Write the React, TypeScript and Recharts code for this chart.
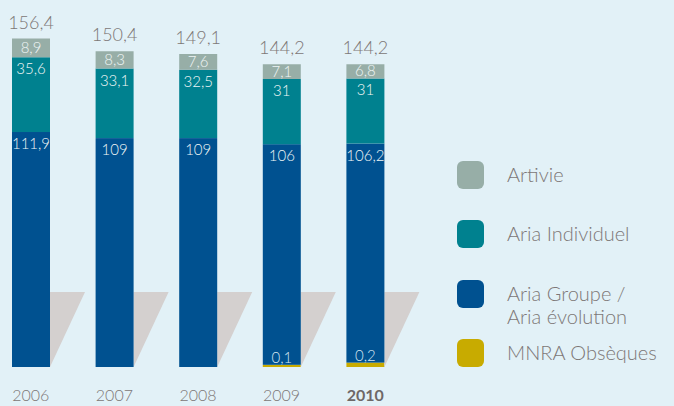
import React from "react";
import { BarChart, Bar, XAxis, YAxis, LabelList } from "recharts";

const years = ["2006", "2007", "2008", "2009", "2010"];
const artivie = [8.9, 8.3, 7.6, 7.1, 6.8];
const ariaIndividuel = [35.6, 33.1, 32.5, 31, 31];
const ariaGroupe = [111.9, 109, 109, 106, 106.2];
const mnraObseques = [0, 0, 0, 0.1, 0.2];
const totals = [156.4, 150.4, 149.1, 144.2, 144.2];

const data = years.map((year, i) => ({
  year,
  artivie: artivie[i],
  ariaIndividuel: ariaIndividuel[i],
  ariaGroupe: ariaGroupe[i],
  mnra: mnraObseques[i],
}));

const COLORS = {
  artivie: "#97aea7",
  ariaIndividuel: "#00818f",
  ariaGroupe: "#005190",
  mnra: "#c8ab00",
  shadow: "#d4d0cf",
  bg: "#e2f1f7",
  text: "#7d7776",
};

const FONT = "Lato, 'Open Sans', sans-serif";
const GOLD_PX = 22; // the small gold segment is drawn exaggerated
const SHADOW_H = 75;
const SHADOW_W = 35;

const fmt = (v: number) => String(v).replace(".", ",");

const GoldShape = (props: any) => {
  const { x, y, width, height, index } = props;
  const v = mnraObseques[index];
  if (!v) return <g />;
  const bottom = y + height;
  const h = v * GOLD_PX;
  return <rect x={x} y={bottom - h} width={width} height={h} fill={COLORS.mnra} />;
};

const BlueShape = (props: any) => {
  const { x, y, width, height, index } = props;
  const goldReal = (height / ariaGroupe[index]) * mnraObseques[index];
  const bottom = y + height + goldReal;
  const goldDisp = mnraObseques[index] * GOLD_PX;
  const r = x + width;
  return (
    <g>
      <polygon
        points={`${r},${bottom - SHADOW_H} ${r + SHADOW_W},${bottom - SHADOW_H} ${r},${bottom}`}
        fill={COLORS.shadow}
      />
      <rect x={x} y={y} width={width} height={bottom - goldDisp - y} fill={COLORS.ariaGroupe} />
    </g>
  );
};

const segLabel = (values: number[], mode: "mid" | "top") => (props: any) => {
  const { x, y, width, height, index } = props;
  const cy = mode === "mid" ? y + height / 2 + 5 : y + 17;
  return (
    <text
      x={x + width / 2}
      y={cy}
      textAnchor="middle"
      fill="#eef5f5"
      fontSize={15}
      fontWeight={300}
      fontFamily={FONT}
    >
      {fmt(values[index])}
    </text>
  );
};

const totalLabel = (props: any) => {
  const { x, y, width, index } = props;
  return (
    <text
      x={x + width / 2}
      y={y - 10}
      textAnchor="middle"
      fill={COLORS.text}
      fontSize={18}
      fontWeight={300}
      fontFamily={FONT}
    >
      {fmt(totals[index])}
    </text>
  );
};

const goldLabel = (props: any) => {
  const { x, y, width, height, index } = props;
  const v = mnraObseques[index];
  if (!v) return null;
  const top = y + height - v * GOLD_PX;
  return (
    <text
      x={x + width / 2}
      y={top - 2}
      textAnchor="middle"
      fill="#d6e6f0"
      fontSize={15}
      fontWeight={300}
      fontFamily={FONT}
    >
      {fmt(v)}
    </text>
  );
};

const YearTick = (props: any) => {
  const { x, y, payload } = props;
  const last = payload.value === "2010";
  return (
    <text
      x={x}
      y={y + 34}
      textAnchor="middle"
      fill={last ? "#6e6867" : COLORS.text}
      fontSize={16}
      fontWeight={last ? 700 : 300}
      fontFamily={FONT}
    >
      {payload.value}
    </text>
  );
};

const legendItems = [
  { label: ["Artivie"], color: COLORS.artivie, top: 161 },
  { label: ["Aria Individuel"], color: COLORS.ariaIndividuel, top: 220 },
  { label: ["Aria Groupe /", "Aria évolution"], color: COLORS.ariaGroupe, top: 280 },
  { label: ["MNRA Obsèques"], color: COLORS.mnra, top: 339 },
];

export default function App() {
  return (
    <div
      style={{
        position: "fixed",
        left: 0,
        top: 0,
        width: 674,
        height: 406,
        background: COLORS.bg,
        overflow: "hidden",
      }}
    >
      <BarChart
        width={674}
        height={406}
        data={data}
        margin={{ top: 10, right: 267, bottom: 9, left: -11 }}
        barSize={38}
      >
        <XAxis
          dataKey="year"
          height={30}
          axisLine={false}
          tickLine={false}
          tickSize={0}
          tickMargin={0}
          interval={0}
          tick={<YearTick />}
        />
        <YAxis hide domain={[0, 170]} />
        <Bar dataKey="mnra" stackId="a" shape={<GoldShape />} isAnimationActive={false}>
          <LabelList content={goldLabel} />
        </Bar>
        <Bar dataKey="ariaGroupe" stackId="a" shape={<BlueShape />} isAnimationActive={false}>
          <LabelList content={segLabel(ariaGroupe, "top")} />
        </Bar>
        <Bar dataKey="ariaIndividuel" stackId="a" fill={COLORS.ariaIndividuel} isAnimationActive={false}>
          <LabelList content={segLabel(ariaIndividuel, "top")} />
        </Bar>
        <Bar dataKey="artivie" stackId="a" fill={COLORS.artivie} isAnimationActive={false}>
          <LabelList content={segLabel(artivie, "mid")} />
          <LabelList content={totalLabel} />
        </Bar>
      </BarChart>
      {legendItems.map((item) => (
        <div key={item.label[0]} style={{ position: "absolute", left: 457, top: item.top }}>
          <div
            style={{
              position: "absolute",
              left: 0,
              top: 0,
              width: 27,
              height: 28,
              borderRadius: 6,
              background: item.color,
            }}
          />
          <div
            style={{
              position: "absolute",
              left: 50,
              top: 2,
              whiteSpace: "nowrap",
              fontFamily: FONT,
              fontWeight: 300,
              fontSize: 20,
              lineHeight: "23px",
              color: COLORS.text,
            }}
          >
            {item.label.map((l) => (
              <div key={l}>{l}</div>
            ))}
          </div>
        </div>
      ))}
    </div>
  );
}
